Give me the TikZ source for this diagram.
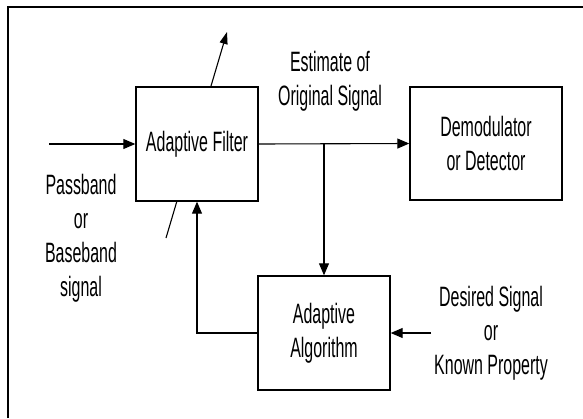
\documentclass[tikz,border=0pt]{standalone}
\usepackage{fontspec}
\setmainfont{Liberation Sans}[FakeStretch=0.57]
\usetikzlibrary{arrows.meta}
\begin{document}
\begin{tikzpicture}[x=1pt,y=-1pt,
  box/.style={draw,line width=1.4pt,fill=white,inner sep=0pt,align=center},
  lbl/.style={align=center,inner sep=0pt},
  conn/.style={line width=1.1pt,-{Triangle[length=12pt,width=10pt]}},
  font=\fontsize{28}{34}\selectfont]
\useasboundingbox (0,0) rectangle (583,418);
% frame
\draw[line width=2.2pt] (8,418) -- (8,7) -- (583,7);
% oblique adaptation arrow (behind filter box)
\coordinate (ts) at (166,238);
\coordinate (te) at (227,32);
\draw[line width=1.1pt,-{Triangle[length=12pt,width=8pt]}] (ts) -- (te);
% boxes
\node[box,minimum width=122pt,minimum height=114pt] (af) at (197,144) {Adaptive Filter};
\node[box,minimum width=152pt,minimum height=113pt] (dd) at (486,143.5) {Demodulator\\or Detector};
\node[box,minimum width=132pt,minimum height=114pt] (aa) at (324,333) {Adaptive\\Algorithm};
% labels
\node[lbl] (est) at (330,81) {Estimate of\\Original Signal};
\node[lbl] (pb) at (81,238) {Passband\\or\\Baseband\\signal};
\node[lbl] (des) at (491,333) {Desired Signal\\or\\Known Property};
% connectors
\coordinate (in) at (49,144);
\coordinate (br) at (324,144);
\coordinate (ds) at (431,333);
\draw[conn] (in) -- (af.west);
\draw[conn] (af.east) -- (dd.west);
\draw[conn] (br) -- (aa.north);
\draw[conn] (aa.west) -| (af.south);
\draw[conn] (ds) -- (aa.east);
\end{tikzpicture}
\end{document}
